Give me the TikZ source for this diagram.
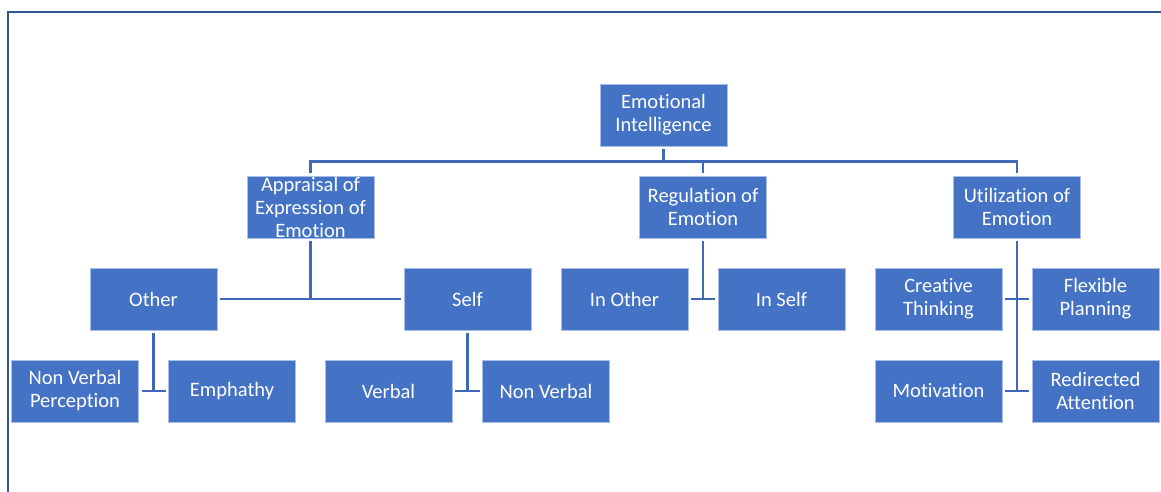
\documentclass[tikz,border=0pt]{standalone}
\usepackage{fontspec}
\setmainfont{Carlito}[Ligatures=NoCommon]
\definecolor{boxblue}{HTML}{4472C4}
\definecolor{boxedge}{HTML}{A9BEE6}
\definecolor{linkblue}{HTML}{4068B8}
\definecolor{frameblue}{HTML}{2F5597}
\tikzset{
  box/.style={rectangle, fill=boxblue, draw=boxedge, line width=0.8pt,
    minimum width=127pt, minimum height=62pt, inner sep=0pt, outer sep=3pt},
  txt/.style={text=white, align=center, inner sep=0pt,
    font=\fontsize{20.5}{23}\selectfont},
  conn/.style={draw=linkblue, line width=2.6pt},
  framestyle/.style={draw=frameblue, line width=2.6pt}
}
\begin{document}
\begin{tikzpicture}[x=1pt,y=-1pt]
\useasboundingbox (0,0) rectangle (1161,491);
\draw[framestyle] (8,500) -- (8,12) -- (1170,12);

\node[box, label={[txt]center:Emotional\\Intelligence}] (ei) at (663.5,115) {};
\node[box, label={[txt]center:Appraisal of\\Expression of\\Emotion}] (app) at (310.5,207) {};
\node[box, label={[txt]center:Regulation of\\Emotion}] (reg) at (703,207) {};
\node[box, label={[txt]center:Utilization of\\Emotion}] (util) at (1017,207) {};

\node[box, label={[txt]center:Other}] (other) at (153.5,299) {};
\node[box, label={[txt]center:Self}] (self) at (467.5,299) {};
\node[box, label={[txt]center:In Other}] (inother) at (624.5,299) {};
\node[box, label={[txt]center:In Self}] (inself) at (781.5,299) {};
\node[box, label={[txt]center:Creative\\Thinking}] (creative) at (938.5,299) {};
\node[box, label={[txt]center:Flexible\\Planning}] (flexible) at (1095.5,299) {};

\node[box, label={[txt]center:Non Verbal\\Perception}] (nvp) at (75,391) {};
\node[box, label={[txt]center:Emphathy}] (emph) at (232,391) {};
\node[box, label={[txt]center:Verbal}] (verbal) at (388.5,391) {};
\node[box, label={[txt]center:Non Verbal}] (nonverbal) at (546,391) {};
\node[box, label={[txt]center:Motivation}] (motiv) at (938.5,391) {};
\node[box, label={[txt]center:Redirected\\Attention}] (redir) at (1095.5,391) {};

\coordinate (busL) at (310.5,161.5);
\draw[conn] (app.north) -- (busL) -| (util.north);
\draw[conn] (ei.south) -- (ei.south |- busL);
\draw[conn] (reg.north) -- (reg.north |- busL);

\draw[conn] (app.south) -- (app.south |- other.east);
\draw[conn] (other.east) -- (self.west);

\draw[conn] (other.south) -- (other.south |- nvp.east);
\draw[conn] (nvp.east) -- (emph.west);
\draw[conn] (self.south) -- (self.south |- verbal.east);
\draw[conn] (verbal.east) -- (nonverbal.west);

\draw[conn] (reg.south) -- (reg.south |- inother.east);
\draw[conn] (inother.east) -- (inself.west);

\draw[conn] (util.south) -- (util.south |- motiv.east);
\draw[conn] (creative.east) -- (flexible.west);
\draw[conn] (motiv.east) -- (redir.west);
\end{tikzpicture}
\end{document}
